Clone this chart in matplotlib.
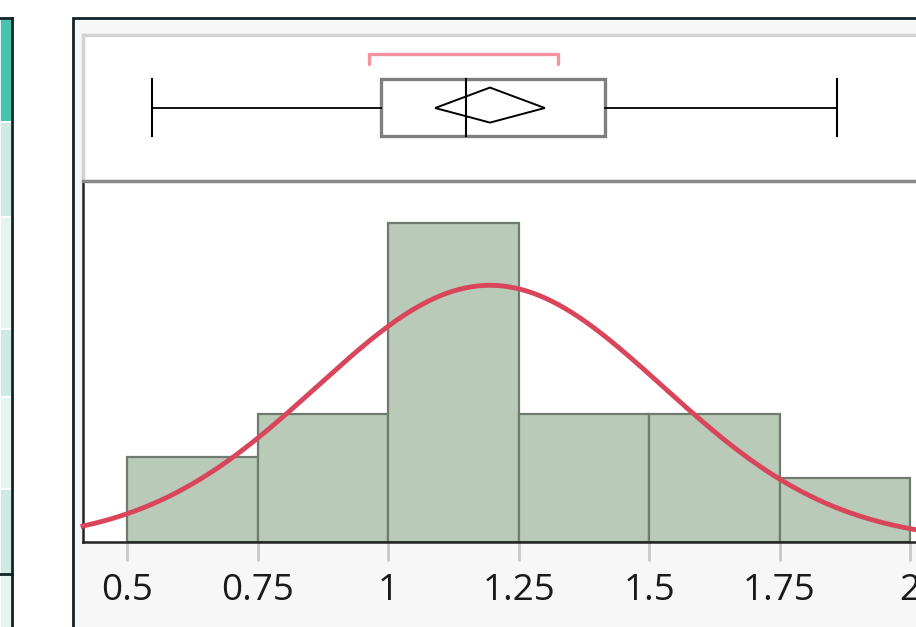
import numpy as np
import matplotlib.pyplot as plt
from matplotlib.patches import Rectangle, Polygon

# histogram data
bin_edges = [0.5, 0.75, 1.0, 1.25, 1.5, 1.75, 2.0]
counts = [4, 6, 15, 6, 6, 3]
tick_vals = [0.5, 0.75, 1, 1.25, 1.5, 1.75, 2]
tick_labels = ["0.5", "0.75", "1", "1.25", "1.5", "1.75", "2"]

# fitted normal
n_obs = 40
mean_val = 1.195
sd_val = 0.331

# outlier box plot summary
q_min, q1, q_med, q3, q_max = 0.548, 0.987, 1.150, 1.415, 1.861
mean_ci = 0.105
short_half = (0.963, 1.325)

W, H = 916, 627
fig = plt.figure(figsize=(W / 100, H / 100), dpi=100)
fig.patch.set_facecolor("white")

def fx(px):
    return px / W

def fy(py):
    return 1 - py / H

# left data-table strip
rows = [(19, 122, "#47c4b0"), (122, 217, "#cfe9e4"), (217, 329, "#e7f4f1"),
        (329, 397, "#cfe9e4"), (397, 489, "#e7f4f1"), (489, 574, "#cfe9e4"),
        (574, 640, "#e7f4f1")]
for top, bot, c in rows:
    fig.patches.append(Rectangle((0, fy(bot)), fx(12), fy(top) - fy(bot),
                                 transform=fig.transFigure, facecolor=c,
                                 edgecolor="white", lw=1.2, zorder=-5))
fig.add_artist(plt.Line2D([fx(12), fx(12)], [fy(18), 0], color="#102428", lw=2,
                          transform=fig.transFigure))
fig.add_artist(plt.Line2D([0, fx(12)], [fy(18), fy(18)], color="#102428", lw=2,
                          transform=fig.transFigure))
fig.add_artist(plt.Line2D([0, fx(12)], [fy(574), fy(574)], color="#102428", lw=2,
                          transform=fig.transFigure))

# report frame
fig.patches.append(Rectangle((fx(73), -0.1), 1.0, fy(18) + 0.1,
                             transform=fig.transFigure, facecolor="#f7f7f7",
                             edgecolor="#102428", lw=2, zorder=-5))

xlim = (0.415, 2.0115)

# box plot panel
axb = fig.add_axes([fx(83), fy(181), 1 - fx(83), fy(35) - fy(181)])
axb.set_facecolor("white")
axb.set_xlim(xlim)
axb.set_ylim(0, 1)
for s in ["top", "left"]:
    axb.spines[s].set_color("#d2d2d2")
    axb.spines[s].set_linewidth(2.5)
axb.spines["right"].set_visible(False)
axb.spines["bottom"].set_visible(False)
axb.set_xticks([])
axb.set_yticks([])

ymid, yb0, yb1 = 0.50, 0.31, 0.70
axb.plot([q_min, q1], [ymid, ymid], color="black", lw=1.3)
axb.plot([q3, q_max], [ymid, ymid], color="black", lw=1.3)
axb.plot([q_min, q_min], [yb0, yb1], color="black", lw=1.5)
axb.plot([q_max, q_max], [yb0, yb1], color="black", lw=1.5)
axb.add_patch(Rectangle((q1, yb0), q3 - q1, yb1 - yb0, facecolor="none",
                        edgecolor="#7f7f7f", lw=2.4))
axb.plot([q_med, q_med], [yb0, yb1], color="black", lw=1.5)
axb.add_patch(Polygon([[mean_val - mean_ci, ymid], [mean_val, 0.64],
                       [mean_val + mean_ci, ymid], [mean_val, 0.40]],
                      closed=True, facecolor="none", edgecolor="black", lw=1.4))
axb.plot([short_half[0], short_half[0], short_half[1], short_half[1]],
         [0.80, 0.87, 0.87, 0.80], color="#f2939e", lw=2.4,
         solid_joinstyle="round", solid_capstyle="round")

# histogram panel
axh = fig.add_axes([fx(83), fy(542), 1 - fx(83), fy(181) - fy(542)])
axh.set_facecolor("white")
axh.set_xlim(xlim)
axh.set_ylim(0, 16.95)
axh.bar(bin_edges[:-1], counts, width=np.diff(bin_edges), align="edge",
        color="#b9cab9", edgecolor="#6e7b6e", lw=1.6, zorder=2)

xs = np.linspace(xlim[0], xlim[1], 400)
dens = n_obs * 0.25 / (sd_val * np.sqrt(2 * np.pi)) * np.exp(-0.5 * ((xs - mean_val) / sd_val) ** 2)
axh.plot(xs, dens, color="#d9465c", lw=3.5, zorder=3, clip_on=False)

axh.spines["top"].set_color("#8a8a8a")
axh.spines["top"].set_linewidth(2.5)
axh.spines["right"].set_visible(False)
axh.spines["left"].set_color("#222222")
axh.spines["left"].set_linewidth(1.8)
axh.spines["bottom"].set_color("#222222")
axh.spines["bottom"].set_linewidth(1.8)
axh.set_yticks([])
axh.set_xticks(tick_vals)
axh.set_xticklabels(tick_labels, fontfamily="Open Sans", fontsize=26.5,
                    color="#1a1a1a")
axh.tick_params(axis="x", length=14, width=2, color="#c8c8c8", pad=8)

fig.savefig("out.png", dpi=100)
